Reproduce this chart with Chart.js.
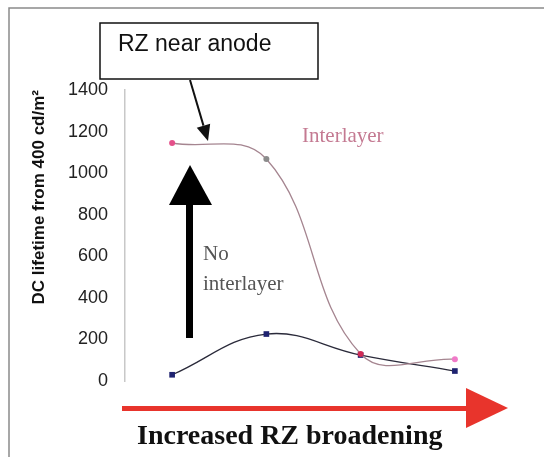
<!DOCTYPE html>
<html>
<head>
<meta charset="utf-8">
<script src="https://cdn.jsdelivr.net/npm/chart.js@4.4.1/dist/chart.umd.min.js"></script>
<style>
  html, body { margin: 0; padding: 0; background: #fff; }
  #wrap { position: relative; width: 544px; height: 457px; }
</style>
</head>
<body>
<div id="wrap"><canvas id="chart" width="544" height="457"></canvas></div>
<script>
// Data
const categories = ['1', '2', '3', '4'];
const interlayer = [1145, 1068, 130, 105];
const noInterlayer = [30, 226, 125, 48];
const yTicks = [0, 200, 400, 600, 800, 1000, 1200, 1400];

// Annotation layer (frame, callout box, arrows, labels)
const annotations = {
    id: 'annotations',
    afterDraw(chart) {
        const ctx = chart.ctx;
        ctx.save();

        // outer frame
        ctx.strokeStyle = '#8a8a8a';
        ctx.lineWidth = 1.5;
        ctx.beginPath();
        ctx.moveTo(9, 457);
        ctx.lineTo(9, 8);
        ctx.lineTo(544, 8);
        ctx.stroke();

        // callout box
        ctx.fillStyle = '#fff';
        ctx.fillRect(100, 23, 218, 56);
        ctx.strokeStyle = '#111';
        ctx.lineWidth = 1.5;
        ctx.strokeRect(100, 23, 218, 56);
        ctx.fillStyle = '#111';
        ctx.font = '23px "Liberation Sans", Arial, sans-serif';
        ctx.textBaseline = 'alphabetic';
        ctx.fillText('RZ near anode', 118, 51);

        // callout arrow
        drawArrow(ctx, 190, 80, 208, 141, 2, 16, 14, '#111');

        // big black up arrow
        ctx.fillStyle = '#000';
        ctx.fillRect(186, 204, 7, 134);
        ctx.beginPath();
        ctx.moveTo(190, 165);
        ctx.lineTo(212, 205);
        ctx.lineTo(169, 205);
        ctx.closePath();
        ctx.fill();

        // red right arrow
        ctx.fillStyle = '#e8342c';
        ctx.fillRect(122, 406, 345, 5);
        ctx.beginPath();
        ctx.moveTo(466, 388);
        ctx.lineTo(508, 408);
        ctx.lineTo(466, 428);
        ctx.closePath();
        ctx.fill();

        // texts
        ctx.font = '21px "Liberation Serif", "Times New Roman", serif';
        ctx.fillStyle = '#555';
        ctx.fillText('No', 203, 260);
        ctx.fillText('interlayer', 203, 290);
        ctx.fillStyle = '#c47a92';
        ctx.fillText('Interlayer', 302, 142);

        ctx.fillStyle = '#111';
        ctx.font = 'bold 28px "Liberation Serif", "Times New Roman", serif';
        ctx.fillText('Increased RZ broadening', 137, 444);

        ctx.restore();
    }
};

function drawArrow(ctx, x1, y1, x2, y2, w, headLen, headW, color) {
    const a = Math.atan2(y2 - y1, x2 - x1);
    const bx = x2 - headLen * Math.cos(a);
    const by = y2 - headLen * Math.sin(a);
    ctx.strokeStyle = color;
    ctx.fillStyle = color;
    ctx.lineWidth = w;
    ctx.beginPath();
    ctx.moveTo(x1, y1);
    ctx.lineTo(bx, by);
    ctx.stroke();
    ctx.beginPath();
    ctx.moveTo(x2, y2);
    ctx.lineTo(bx + headW / 2 * Math.sin(a), by - headW / 2 * Math.cos(a));
    ctx.lineTo(bx - headW / 2 * Math.sin(a), by + headW / 2 * Math.cos(a));
    ctx.closePath();
    ctx.fill();
}

new Chart(document.getElementById('chart'), {
    type: 'line',
    data: {
        labels: categories,
        datasets: [{
            label: 'Interlayer',
            data: interlayer,
            borderColor: '#a58590',
            borderWidth: 1.3,
            tension: 0.4,
            pointStyle: 'circle',
            pointRadius: 3,
            pointBackgroundColor: ['#e4508a', '#8c8c8c', '#d02a55', '#f07ac8'],
            pointBorderWidth: 0
        }, {
            label: 'No interlayer',
            data: noInterlayer,
            borderColor: '#2a2a3a',
            borderWidth: 1.3,
            tension: 0.4,
            pointStyle: 'rect',
            pointRadius: 4,
            pointBackgroundColor: '#1e2270',
            pointBorderWidth: 0
        }]
    },
    options: {
        responsive: false,
        animation: false,
        events: [],
        layout: { padding: { left: 0, right: 42, top: 90, bottom: 76 } },
        plugins: {
            legend: { display: false },
            tooltip: { enabled: false }
        },
        scales: {
            x: {
                type: 'category',
                offset: true,
                display: false
            },
            y: {
                min: 0,
                max: 1400,
                afterBuildTicks(scale) {
                    scale.ticks = yTicks.map(v => ({ value: v }));
                },
                afterFit(scale) {
                    scale.width = 125;
                },
                grid: { display: false, drawTicks: false },
                border: { display: true, color: '#c8c8c8', width: 1.5 },
                ticks: {
                    padding: 17,
                    color: '#222',
                    callback: v => String(v),
                    font: { family: '"Liberation Sans", Arial, sans-serif', size: 18 }
                },
                title: {
                    display: true,
                    text: 'DC lifetime from 400 cd/m²',
                    align: 'end',
                    color: '#111',
                    font: { family: '"Liberation Sans", Arial, sans-serif', size: 17, weight: 'bold' },
                    padding: { top: 29, bottom: 0 }
                }
            }
        }
    },
    plugins: [annotations]
});
</script>
</body>
</html>
